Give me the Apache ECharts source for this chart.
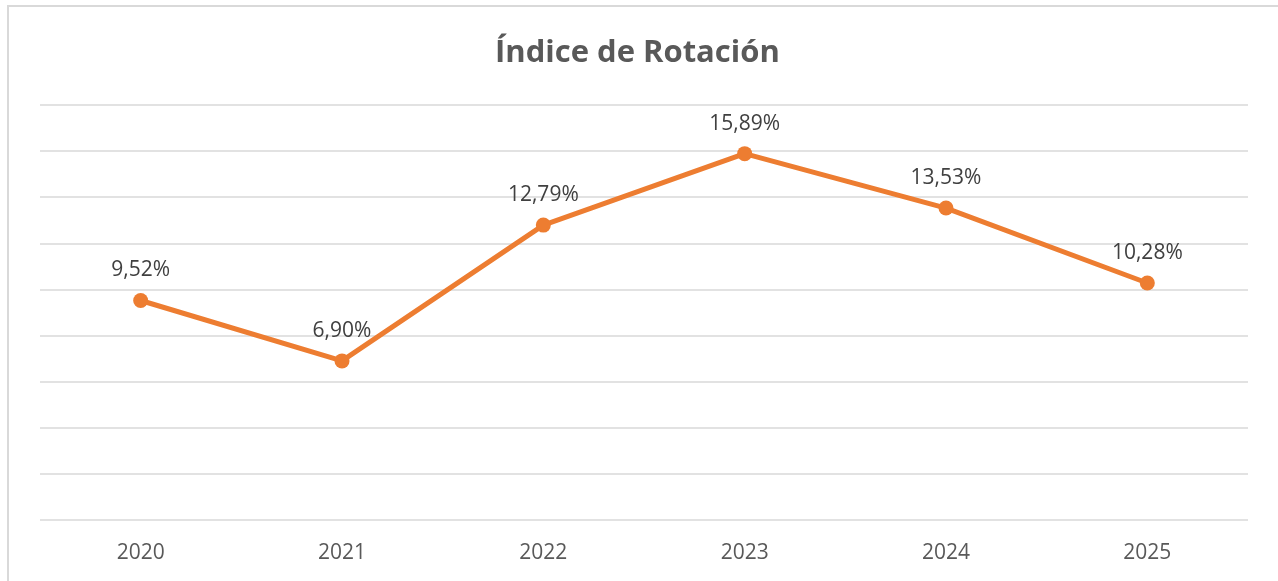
<!DOCTYPE html>
<html>
<head>
<meta charset="utf-8">
<script src="https://cdn.jsdelivr.net/npm/echarts@6/dist/echarts.min.js"></script>
<style>
html, body { margin: 0; padding: 0; background: #fff; }
#chart { width: 1278px; height: 581px; }
</style>
</head>
<body>
<div id="chart"></div>
<script>
var years = ['2020', '2021', '2022', '2023', '2024', '2025'];
var rotacion = [9.52, 6.90, 12.79, 15.89, 13.53, 10.28];

var myChart = echarts.init(document.getElementById('chart'));

var option = {
    backgroundColor: '#fff',
    animation: false,
    title: {
        text: 'Índice de Rotación',
        left: 490,
        top: 33,
        textStyle: {
            fontFamily: 'Open Sans',
            fontWeight: 'bold',
            fontSize: 31,
            color: '#595959'
        }
    },
    graphic: [{
        type: 'rect',
        shape: { x: 8, y: 6, width: 1300, height: 620 },
        style: { fill: 'none', stroke: '#d9d9d9', lineWidth: 2 },
        silent: true
    }],
    grid: { left: 40, right: 30, top: 105, bottom: 61 },
    xAxis: {
        type: 'category',
        data: years,
        boundaryGap: true,
        axisLine: { show: false },
        axisTick: { show: false },
        axisLabel: {
            margin: 23,
            fontFamily: 'Open Sans',
            fontSize: 21,
            color: '#595959'
        }
    },
    yAxis: {
        type: 'value',
        min: 0,
        max: 18,
        interval: 2,
        axisLabel: { show: false },
        axisLine: { show: false },
        axisTick: { show: false },
        splitLine: { lineStyle: { color: '#d9d9d9', width: 1.5 } }
    },
    series: [{
        type: 'line',
        data: rotacion,
        symbol: 'circle',
        symbolSize: 15,
        itemStyle: { color: '#ed7d31' },
        lineStyle: { color: '#ed7d31', width: 5 },
        label: {
            show: true,
            position: 'top',
            distance: 12,
            fontFamily: 'Open Sans',
            fontSize: 21,
            color: '#404040',
            formatter: function (p) {
                return p.value.toFixed(2).replace('.', ',') + '%';
            }
        }
    }]
};

myChart.setOption(option);
</script>
</body>
</html>
